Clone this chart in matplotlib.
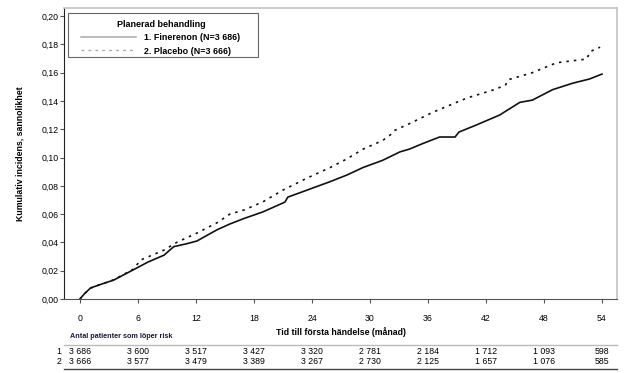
import matplotlib
matplotlib.use("Agg")
import matplotlib.pyplot as plt
from matplotlib.lines import Line2D
from matplotlib.patches import Rectangle
import matplotlib.transforms as mtransforms

plt.rcParams['font.family'] = ['Liberation Sans', 'DejaVu Sans']

# kurvdata (månad, kumulativ incidens)
fin_months = [0, 0.5, 1.1, 2, 3.5, 4.5, 5.9, 7, 8.7, 9.7, 11, 12.1, 14.2, 15.5, 17,
              18.9, 21.2, 21.5, 23.5, 25.9, 27.6, 29.3, 31.3, 33.1, 34.1, 35.5, 37.2,
              38.8, 39.2, 41, 43.4, 45.5, 46.8, 48.9, 51, 52.7, 54]
fin_values = [0, 0.004, 0.0078, 0.010, 0.0134, 0.017, 0.022, 0.026, 0.031, 0.037, 0.039,
              0.041, 0.049, 0.053, 0.057, 0.0615, 0.0685, 0.072, 0.077, 0.083, 0.0876,
              0.093, 0.098, 0.104, 0.106, 0.110, 0.1145, 0.1145, 0.118, 0.123, 0.130,
              0.139, 0.1406, 0.148, 0.1526, 0.1555, 0.159]

pla_months = [0, 1, 3.5, 5.5, 6.3, 8.7, 10, 12.1, 14.2, 15.5, 17, 18.9, 21, 23.5, 25.9,
              27.6, 29.3, 31.3, 32.2, 32.5, 34.1, 36.5, 40, 42.7, 44.0, 44.3, 46.8, 49.3,
              52.4, 52.8, 53.8]
pla_values = [0, 0.0075, 0.0136, 0.021, 0.0276, 0.0346, 0.040, 0.0466, 0.054, 0.060, 0.063,
              0.0686, 0.077, 0.0855, 0.093, 0.099, 0.106, 0.112, 0.1165, 0.119, 0.124,
              0.132, 0.142, 0.1477, 0.151, 0.155, 0.160, 0.167, 0.1696, 0.175, 0.178]

x_ticks = [0, 6, 12, 18, 24, 30, 36, 42, 48, 54]
y_ticks = [0.00, 0.02, 0.04, 0.06, 0.08, 0.10, 0.12, 0.14, 0.16, 0.18, 0.20]
risk_fin = ['3 686', '3 600', '3 517', '3 427', '3 320', '2 781', '2 184', '1 712', '1 093', '598']
risk_pla = ['3 666', '3 577', '3 479', '3 389', '3 267', '2 730', '2 125', '1 657', '1 076', '585']

W, H = 642, 373
fig = plt.figure(figsize=(W / 100, H / 100), dpi=100)
ax = fig.add_axes([64 / W, 1 - 299 / H, 553 / W, 291 / H])

ax.plot(fin_months, fin_values, color='#111111', lw=1.2, solid_joinstyle='miter')
ax.plot(pla_months, pla_values, color='#111111', lw=1.2, linestyle=(0, (1.5, 3)))

ax.set_xlim(-1.65, 55.55)
ax.set_ylim(0, 0.2057)
ax.set_xticks(x_ticks)
ax.set_yticks(y_ticks)
ax.set_yticklabels([f'{v:.2f}'.replace('.', ',') for v in y_ticks])
ax.tick_params(axis='both', labelsize=6.3, length=3, width=0.8, color='#555555')
ax.tick_params(axis='x', pad=8)
ax.tick_params(axis='y', pad=1)

ax.spines['left'].set_color('#222222')
ax.spines['bottom'].set_color('#555555')
for s in ['top', 'right']:
    ax.spines[s].set_color('#c4c4c4')
    ax.spines[s].set_linewidth(1.2)

ax.set_xlabel('Tid till första händelse (månad)', fontsize=6.3, fontweight='bold', labelpad=3)
ax.set_ylabel('Kumulativ incidens, sannolikhet', fontsize=6.3, fontweight='bold', labelpad=12)

# legend med egen ram
handles = [Line2D([], [], color='#aaaaaa', lw=1.1),
           Line2D([], [], color='#aaaaaa', lw=1.0, linestyle=(0, (2, 3)))]
leg = ax.legend(handles, ['1. Finerenon (N=3 686)', '2. Placebo (N=3 666)'],
                title='Planerad behandling', loc='upper left',
                bbox_to_anchor=(0.025, 0.972), borderaxespad=0, frameon=False,
                prop={'size': 6.4, 'weight': 'bold'}, handlelength=6.2,
                handletextpad=0.9, labelspacing=0.5)
leg.get_title().set_fontsize(6.5)
leg.get_title().set_fontweight('bold')
ax.add_patch(Rectangle((4 / 553, 1 - 49 / 291), 190 / 553, 44 / 291, transform=ax.transAxes,
                       fill=False, edgecolor='#666666', lw=0.8, clip_on=False))

# risktabell
trans = mtransforms.blended_transform_factory(ax.transData, fig.transFigure)
fig.text(70 / W, 1 - 337 / H, 'Antal patienter som löper risk', fontsize=5.2,
         fontweight='bold', color='#1a1a3a', va='center')
for x, a, b in zip(x_ticks, risk_fin, risk_pla):
    fig.text(x, 1 - 351 / H, a, transform=trans, fontsize=6.3, ha='center', va='center')
    fig.text(x, 1 - 362 / H, b, transform=trans, fontsize=6.3, ha='center', va='center')
fig.text(61 / W, 1 - 351 / H, '1', fontsize=6.3, ha='right', va='center')
fig.text(61 / W, 1 - 362 / H, '2', fontsize=6.3, ha='right', va='center')
fig.add_artist(Line2D([64 / W, 617 / W], [1 - 345 / H, 1 - 345 / H], color='#bbbbbb', lw=1.0))
fig.add_artist(Line2D([64 / W, 617 / W], [1 - 369 / H, 1 - 369 / H], color='#444444', lw=1.0))

fig.savefig('out.png', dpi=100)
